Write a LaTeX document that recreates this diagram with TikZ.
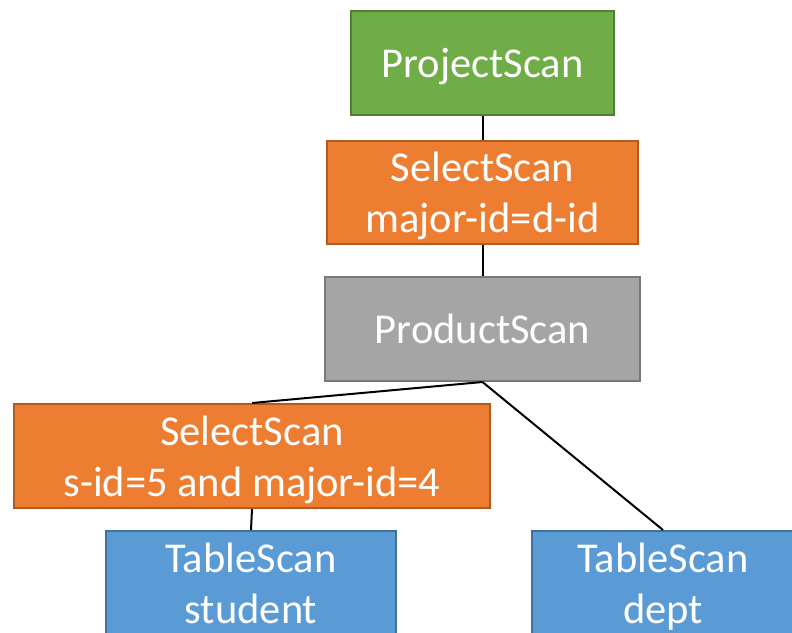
\documentclass[tikz,border=0pt]{standalone}
\usepackage{fontspec}
\setmainfont{Carlito}
\definecolor{pgreen}{HTML}{70AD47}\definecolor{pgreenD}{HTML}{507E32}
\definecolor{porange}{HTML}{ED7D31}\definecolor{porangeD}{HTML}{AE5A21}
\definecolor{pgray}{HTML}{A5A5A5}\definecolor{pgrayD}{HTML}{787878}
\definecolor{pblue}{HTML}{5B9BD5}\definecolor{pblueD}{HTML}{41719C}
\tikzset{
  opbox/.style={rectangle, line width=2pt, text=white, align=center, inner sep=0pt,
    font=\fontsize{42.5}{51}\selectfont, text depth=0pt, minimum height=104pt},
  proj/.style={opbox, fill=pgreen, draw=pgreenD},
  sel/.style={opbox, fill=porange, draw=porangeD},
  prod/.style={opbox, fill=pgray, draw=pgrayD},
  tbl/.style={opbox, fill=pblue, draw=pblueD},
  link/.style={draw=black, line width=2pt}
}
\begin{document}
\begin{tikzpicture}[x=1pt,y=-1pt]
\useasboundingbox (0,0) rectangle (792,632);
\clip (0,0) rectangle (792,632);
\node[proj, minimum width=263pt] (project) at (482.5,63) {ProjectScan};
\node[sel, minimum width=311pt, minimum height=103pt] (sel1) at (482.5,192.5) {SelectScan\\major-id=d-id};
\node[prod, minimum width=315pt] (product) at (482.5,329) {ProductScan};
\node[sel, minimum width=476pt] (sel2) at (252,456) {SelectScan\\s-id=5 and major-id=4};
\node[tbl, minimum width=290pt] (student) at (251,583) {TableScan\\student};
\node[tbl, minimum width=262pt] (dept) at (663,583) {TableScan\\dept};
\draw[link] (project.south) -- (sel1.north);
\draw[link] (sel1.south) -- (product.north);
\draw[link] (product.south) -- (sel2.north);
\draw[link] (product.south) -- (dept.north);
\draw[link] (sel2.south) -- (student.north);
\end{tikzpicture}
\end{document}
